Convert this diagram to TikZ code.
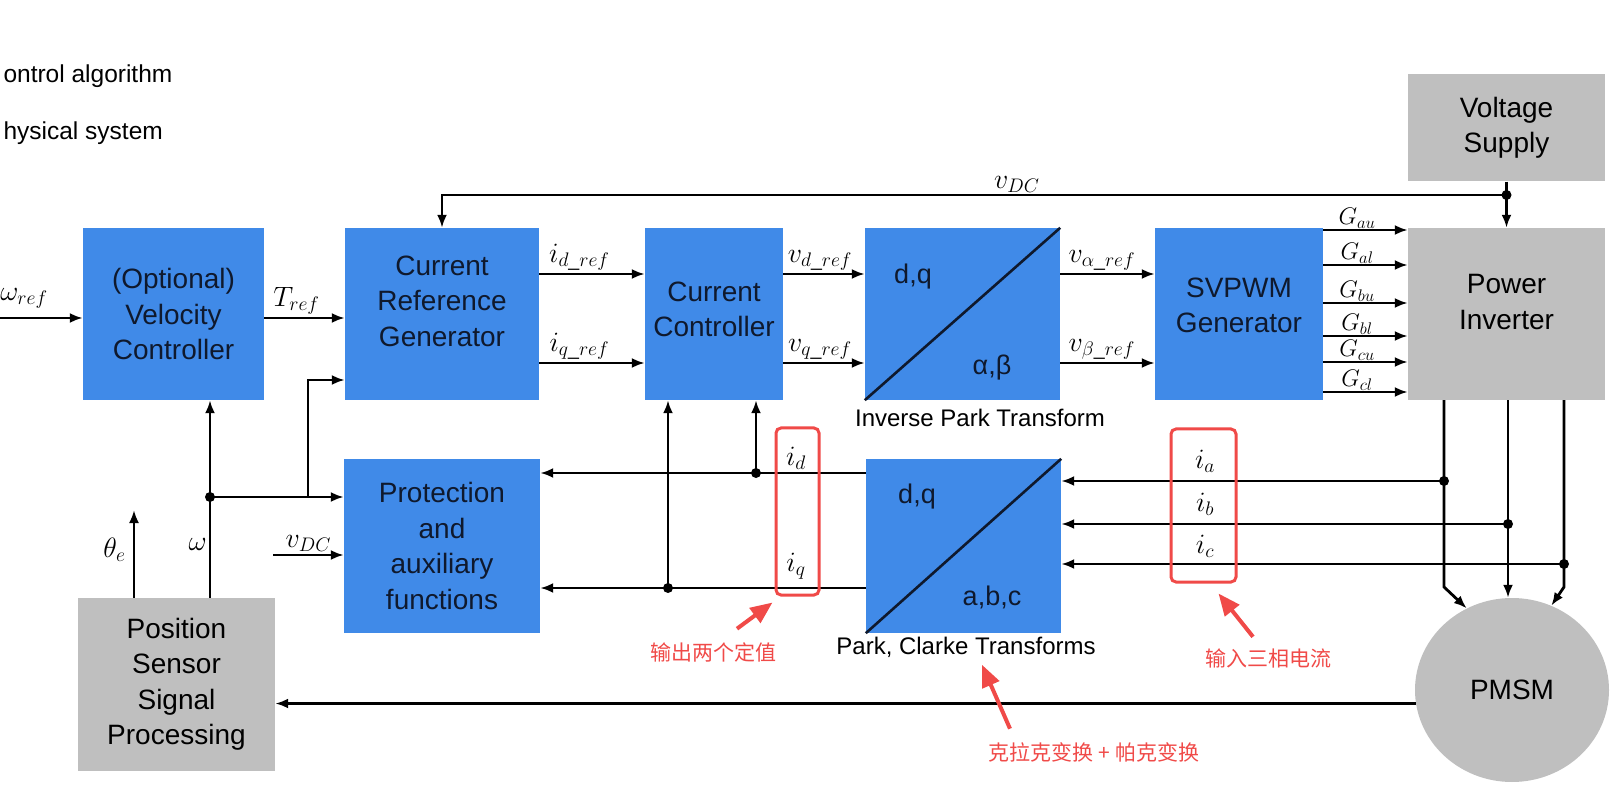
\RequirePackage{fix-cm}
\documentclass[tikz,border=0pt]{standalone}
\usepackage{amsmath}
\usepackage{fontspec}
\setmainfont{Liberation Sans}
\newfontfamily\cjk{Noto Sans CJK SC}
\usepackage{xcolor}
\usetikzlibrary{arrows.meta,positioning,calc,shapes.geometric}

\definecolor{ctrlblue}{RGB}{64,138,232}
\definecolor{physgrey}{RGB}{191,191,191}
\definecolor{boxtext}{RGB}{15,25,45}
\definecolor{notered}{RGB}{240,74,72}

\begin{document}
\begin{tikzpicture}[x=1pt, y=-1pt,
  ctrl/.style={fill=ctrlblue, text=boxtext, inner sep=0pt, minimum height=172pt, align=center, font=\fontsize{28}{35.5}\selectfont},
  phys/.style={ctrl, fill=physgrey, text=black},
  boxlbl/.style={text=boxtext, font=\fontsize{27}{30}\selectfont},
  sig/.style={font=\fontsize{28}{32}\selectfont, inner sep=2pt},
  tlabel/.style={font=\fontsize{24}{27}\selectfont},
  arr/.style={line width=2.8pt, -{Latex[length=13pt,width=10pt]}},
  jdot/.style={circle, fill=black, inner sep=0pt, minimum size=10pt},
  redbox/.style={draw=notered, line width=3pt, rounded corners=5pt, inner sep=0pt},
  note/.style={text=notered, font=\cjk\fontsize{21}{24}\selectfont},
  pointer/.style={draw=notered, line width=4pt, -{Triangle[length=22pt,width=18pt]}}
]
\useasboundingbox (0,0) rectangle (1623,799);

\node[anchor=west, font=\fontsize{24.5}{28}\selectfont] (legctrl) at (0,76) {ontrol algorithm};
\node[anchor=west, font=\fontsize{24.5}{28}\selectfont] (legphys) at (0,133) {hysical system};

\node[ctrl, minimum width=181pt] (velctrl) at (173.5,314) {(Optional)\\Velocity\\Controller};
\node[ctrl, minimum width=194pt, text depth=26pt] (curref) at (442,314) {Current\\Reference\\Generator};
\node[ctrl, minimum width=138pt, text depth=10pt] (curctrl) at (714,314) {Current\\Controller};
\node[ctrl, minimum width=195pt] (invpark) at (962.5,314) {};
\node[ctrl, minimum width=168pt, text depth=18pt] (svpwm) at (1239,314) {SVPWM\\Generator};
\node[phys, minimum width=197pt, text depth=24pt] (inverter) at (1506.5,314) {Power\\Inverter};
\node[phys, minimum width=197pt, minimum height=107pt] (supply) at (1506.5,128) {Voltage\\Supply};
\node[ctrl, minimum width=196pt, minimum height=174pt] (protect) at (442,546) {Protection\\and\\auxiliary\\functions};
\node[ctrl, minimum width=195pt, minimum height=174pt] (park) at (963.5,546) {};
\node[phys, minimum width=197pt, minimum height=173pt] (possens) at (176.5,684.5) {Position\\Sensor\\Signal\\Processing};
\node[phys, ellipse, minimum width=194pt, minimum height=184pt] (pmsm) at (1512,690) {PMSM};

\draw[line width=2.6pt, boxtext] (invpark.south west) -- (invpark.north east);
\draw[line width=2.6pt, boxtext] (park.south west) -- (park.north east);
\node[boxlbl] (ipdq) at (913,277) {d,q};
\node[boxlbl] (ipab) at (992,368) {α,β};
\node[boxlbl] (pkdq) at (917,497) {d,q};
\node[boxlbl] (pkabc) at (992,597) {a,b,c};
\node[tlabel] (lipark) at (980,418) {Inverse Park Transform};
\node[tlabel] (lpark) at (966,647) {Park, Clarke Transforms};

\coordinate (wref) at (0,318);
\draw[arr] (wref) -- (velctrl.west |- wref);
\node[sig] (lwref) at (24,298) {$\omega_{ref}$};
\draw[arr] (velctrl.east |- wref) -- node[sig, above, pos=0.4] (ltref) {$T_{ref}$} (curref.west |- wref);
\draw[arr] (curref.east |- 0,274) -- node[sig, above, pos=0.38] {$i_{d\_ref}$} (curctrl.west |- 0,274);
\draw[arr] (curref.east |- 0,363) -- node[sig, above, pos=0.38] {$i_{q\_ref}$} (curctrl.west |- 0,363);
\draw[arr] (curctrl.east |- 0,274) -- node[sig, above, pos=0.45] {$v_{d\_ref}$} (invpark.west |- 0,274);
\draw[arr] (curctrl.east |- 0,363) -- node[sig, above, pos=0.45] {$v_{q\_ref}$} (invpark.west |- 0,363);
\draw[arr] (invpark.east |- 0,274) -- node[sig, above, pos=0.44] {$v_{\alpha\_ref}$} (svpwm.west |- 0,274);
\draw[arr] (invpark.east |- 0,363) -- node[sig, above, pos=0.44] {$v_{\beta\_ref}$} (svpwm.west |- 0,363);

\coordinate (jdc) at (supply.south |- 0,195);
\draw[arr] (supply.south) -- (inverter.north);
\draw[arr] (jdc) -| node[sig, above, pos=0.23, inner sep=1pt] (lvdc) {$v_{DC}$} (curref.north);
\node[jdot] at (jdc) {};

\foreach \gy/\gl in {230/au,265/al,303/bu,336/bl,362/cu,392/cl}
  \draw[arr] (svpwm.east |- 0,\gy) -- node[sig, above, pos=0.4, inner sep=0pt, font=\fontsize{24}{26}\selectfont] {$G_{\gl}$} (inverter.west |- 0,\gy);

\coordinate (jw) at (210,497);
\coordinate (theta) at (134,510);
\coordinate (jr) at (308,497);
\coordinate (vdcin) at (273,555);
\draw[arr] (possens.north -| jw) -- node[sig, left, pos=0.27] {$\omega$} (velctrl.south -| jw);
\draw[arr] (possens.north -| theta) -- node[sig, left, pos=0.55, inner sep=7pt] {$\theta_e$} (theta);
\draw[arr] (jw) -- (protect.west |- jw);
\draw[arr] (jr) |- (curref.west |- 0,380);
\draw[arr] (vdcin) -- node[sig, above] {$v_{DC}$} (protect.west |- vdcin);
\node[jdot] at (jw) {};

\coordinate (jd) at (756,473);
\coordinate (jq) at (668,588);
\draw[arr] (park.west |- jd) -- (protect.east |- jd);
\draw[arr] (park.west |- jq) -- (protect.east |- jq);
\draw[arr] (jd) -- (curctrl.south -| jd);
\draw[arr] (jq) -- (curctrl.south -| jq);
\node[jdot] at (jd) {};
\node[jdot] at (jq) {};
\node[sig] (lid) at (796,458) {$i_d$};
\node[sig] (liq) at (796,566) {$i_q$};
\node[redbox, minimum width=43pt, minimum height=167pt] (rbdq) at (797.5,511.5) {};

\coordinate (ja) at (1444,481);
\coordinate (jb) at (1508,524);
\coordinate (jc) at (1564,564);
\foreach \j in {ja,jb,jc}
  \draw[arr] (\j) -- (park.east |- \j);
\draw[arr] (inverter.south -| ja) -- (ja |- 0,587) -- (pmsm.119);
\draw[arr] (inverter.south -| jb) -- (jb |- pmsm.north);
\draw[arr] (inverter.south -| jc) -- (jc |- 0,587) -- (pmsm.65);
\foreach \j in {ja,jb,jc}
  \node[jdot] at (\j) {};
\node[sig] (lia) at (1205,461) {$i_a$};
\node[sig] (lib) at (1205,504) {$i_b$};
\node[sig] (lic) at (1205,546) {$i_c$};
\node[redbox, minimum width=65pt, minimum height=153pt] (rbabc) at (1203.5,505.5) {};

\draw[arr] (pmsm.188) -- (possens.east |- pmsm.188);

\node[note] (note1) at (713,652) {输出两个定值};
\node[note] (note2) at (1094,752) {克拉克变换 + 帕克变换};
\node[note] (note3) at (1268,658) {输入三相电流};
\draw[pointer] ([xshift=24pt,yshift=10pt]note1.north) -- ([xshift=-2pt,yshift=-6pt]rbdq.south west);
\draw[pointer] ([xshift=-84pt,yshift=10pt]note2.north) -- ([xshift=16pt,yshift=-4pt]lpark.south);
\draw[pointer] ([xshift=-15pt,yshift=8pt]note3.north) -- ([xshift=15pt,yshift=-10pt]rbabc.south);
\end{tikzpicture}
\end{document}
